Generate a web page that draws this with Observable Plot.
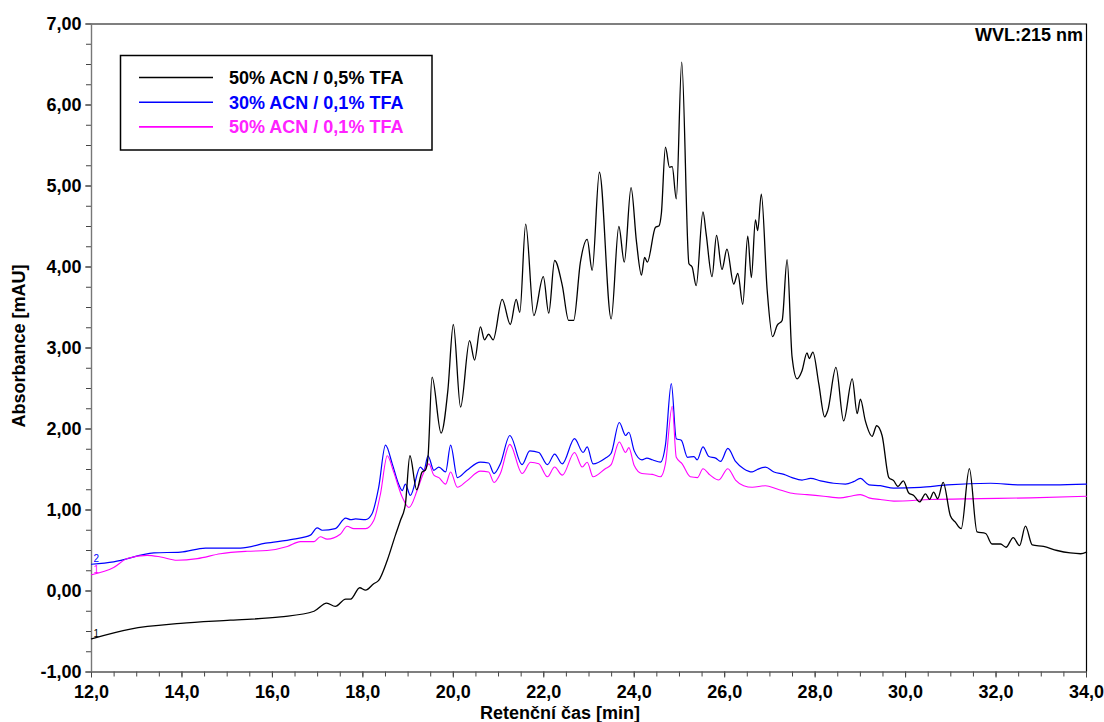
<!DOCTYPE html>
<html>
<head>
<meta charset="utf-8">
<script src="https://cdn.jsdelivr.net/npm/d3@7"></script>
<script src="https://cdn.jsdelivr.net/npm/@observablehq/plot@0.6"></script>
<style>
  html, body { margin: 0; padding: 0; background: #fff; }
  #chart { width: 1104px; height: 722px; }
</style>
</head>
<body>
<div id="chart"></div>
<script>
// ---- Data (retention time [min], absorbance [mAU]) ----
const seriesNames = ["50% ACN / 0,5% TFA", "30% ACN / 0,1% TFA", "50% ACN / 0,1% TFA"];
const seriesColors = ["#000000", "#0000ff", "#ff00ff"];
const seriesTags = ["1", "2", "1"];

const black05 = [
  [12.00,-0.59],[12.86,-0.47],[13.97,-0.40],[15.07,-0.36],[16.18,-0.32],[16.92,-0.25],[17.20,-0.15],[17.39,-0.19],
  [17.62,-0.10],[17.73,-0.10],[17.93,0.04],[18.06,0.01],[18.24,0.09],[18.35,0.13],[18.54,0.38],[18.72,0.69],
  [18.83,0.87],[18.94,1.07],[19.04,1.67],[19.19,1.25],[19.31,1.47],[19.38,1.49],[19.44,1.65],[19.53,2.64],
  [19.73,1.95],[19.88,2.48],[20.00,3.29],[20.16,2.27],[20.36,3.09],[20.47,2.85],[20.60,3.26],[20.69,3.10],
  [20.78,3.17],[20.88,3.10],[21.08,3.60],[21.26,3.29],[21.39,3.60],[21.47,3.44],[21.60,4.53],[21.78,3.40],
  [21.99,3.88],[22.11,3.43],[22.24,4.08],[22.41,3.77],[22.55,3.34],[22.66,3.34],[22.81,4.06],[22.96,4.34],
  [23.07,3.96],[23.23,5.17],[23.49,3.36],[23.66,4.50],[23.78,4.06],[23.93,4.98],[24.05,4.31],[24.16,3.90],
  [24.23,4.12],[24.29,4.06],[24.47,4.49],[24.55,4.51],[24.60,4.66],[24.69,5.48],[24.78,5.23],[24.84,5.24],
  [24.93,4.84],[25.05,6.53],[25.21,4.04],[25.28,4.00],[25.37,3.77],[25.52,4.68],[25.59,4.41],[25.72,3.88],
  [25.82,4.39],[25.94,3.97],[26.05,4.22],[26.20,3.79],[26.29,3.92],[26.40,3.54],[26.51,4.38],[26.59,3.87],
  [26.68,4.58],[26.73,4.45],[26.81,4.90],[26.94,3.71],[27.06,3.14],[27.16,3.28],[27.27,3.34],[27.38,4.09],
  [27.49,2.89],[27.60,2.62],[27.71,2.72],[27.82,2.94],[27.87,2.87],[27.95,2.95],[28.08,2.56],[28.21,2.15],
  [28.28,2.23],[28.46,2.76],[28.63,2.10],[28.82,2.62],[28.93,2.19],[29.00,2.37],[29.11,2.10],[29.26,1.91],
  [29.36,2.04],[29.48,1.92],[29.63,1.40],[29.74,1.36],[29.83,1.29],[29.95,1.36],[30.07,1.21],[30.18,1.18],
  [30.31,1.10],[30.44,1.20],[30.53,1.13],[30.62,1.22],[30.71,1.14],[30.83,1.34],[30.99,0.93],[31.10,0.85],
  [31.23,0.77],[31.41,1.51],[31.58,0.73],[31.77,0.71],[31.91,0.58],[32.10,0.58],[32.22,0.54],[32.38,0.66],
  [32.52,0.56],[32.65,0.80],[32.80,0.57],[33.05,0.55],[33.35,0.50],[33.64,0.47],[33.87,0.46],[34.00,0.48]
];

const blue30 = [
  [12.00,0.33],[12.49,0.36],[13.38,0.47],[13.97,0.48],[14.52,0.53],[15.29,0.53],[15.85,0.59],[16.47,0.64],
  [16.84,0.69],[16.99,0.78],[17.10,0.75],[17.39,0.77],[17.62,0.90],[17.73,0.88],[17.84,0.89],[18.06,0.88],
  [18.20,0.95],[18.35,1.28],[18.50,1.80],[18.65,1.57],[18.79,1.32],[18.87,1.24],[18.94,1.32],[19.05,1.18],
  [19.27,1.53],[19.35,1.49],[19.44,1.67],[19.57,1.49],[19.68,1.53],[19.83,1.47],[19.94,1.80],[20.09,1.40],
  [20.30,1.49],[20.60,1.59],[20.78,1.58],[20.90,1.45],[21.04,1.57],[21.25,1.92],[21.52,1.56],[21.69,1.73],
  [21.89,1.71],[22.08,1.56],[22.24,1.69],[22.41,1.57],[22.68,1.88],[22.87,1.71],[22.96,1.78],[23.09,1.57],
  [23.36,1.64],[23.49,1.70],[23.67,2.08],[23.81,1.92],[23.88,1.96],[24.00,1.73],[24.17,1.62],[24.28,1.64],
  [24.40,1.62],[24.58,1.59],[24.69,1.80],[24.82,2.56],[24.93,1.88],[25.04,1.86],[25.18,1.65],[25.32,1.66],
  [25.39,1.62],[25.52,1.78],[25.65,1.66],[25.80,1.64],[25.91,1.60],[26.07,1.76],[26.24,1.60],[26.42,1.51],
  [26.61,1.47],[26.72,1.50],[26.90,1.53],[27.09,1.47],[27.31,1.44],[27.49,1.40],[27.71,1.37],[27.90,1.39],
  [28.12,1.36],[28.41,1.33],[28.67,1.32],[28.85,1.35],[29.00,1.39],[29.19,1.31],[29.44,1.30],[29.74,1.27],
  [30.33,1.28],[30.92,1.31],[31.88,1.33],[32.54,1.31],[33.28,1.31],[34.00,1.32]
];

const magenta50 = [
  [12.00,0.20],[12.49,0.29],[12.79,0.40],[13.23,0.44],[13.53,0.42],[13.89,0.38],[14.34,0.40],[14.85,0.46],
  [15.44,0.49],[15.88,0.50],[16.33,0.55],[16.62,0.61],[16.92,0.61],[17.06,0.67],[17.21,0.64],[17.50,0.70],
  [17.65,0.80],[17.80,0.77],[18.06,0.77],[18.24,0.87],[18.39,1.20],[18.54,1.67],[18.68,1.47],[18.87,1.16],
  [19.02,1.03],[19.20,1.24],[19.35,1.47],[19.46,1.57],[19.57,1.43],[19.68,1.40],[19.83,1.32],[19.94,1.47],
  [20.09,1.28],[20.30,1.36],[20.60,1.48],[20.78,1.47],[20.90,1.34],[21.04,1.45],[21.25,1.81],[21.52,1.45],
  [21.71,1.59],[21.89,1.57],[22.08,1.41],[22.24,1.53],[22.41,1.43],[22.68,1.71],[22.85,1.53],[22.96,1.59],
  [23.09,1.41],[23.36,1.51],[23.49,1.56],[23.67,1.84],[23.81,1.71],[23.88,1.77],[24.00,1.55],[24.17,1.45],
  [24.40,1.44],[24.58,1.41],[24.69,1.57],[24.84,2.28],[24.93,1.65],[25.06,1.57],[25.24,1.41],[25.40,1.40],
  [25.52,1.51],[25.68,1.43],[25.87,1.37],[26.07,1.51],[26.24,1.37],[26.42,1.30],[26.61,1.28],[26.90,1.30],
  [27.16,1.26],[27.45,1.21],[27.82,1.19],[28.19,1.17],[28.56,1.15],[28.78,1.17],[29.00,1.19],[29.19,1.15],
  [29.44,1.13],[29.74,1.11],[30.55,1.13],[31.65,1.14],[32.76,1.15],[34.00,1.17]
];

const xMajorTicks = [12, 14, 16, 18, 20, 22, 24, 26, 28, 30, 32, 34];
const xMinorTicks = d3.range(12, 34.001, 0.5);
const yMajorTicks = [-1, 0, 1, 2, 3, 4, 5, 6, 7];
const yMinorTicks = d3.range(-1, 7.001, 0.25);

const xTitle = "Retenční čas [min]";
const yTitle = "Absorbance [mAU]";
const cornerNote = "WVL:215 nm";

// ---- Build ----
const allSeries = [black05, blue30, magenta50];
const rows = allSeries.flatMap((s, i) => s.map(([t, v]) => ({t, v, s: i})));
const firsts = allSeries.map((s, i) => ({t: s[0][0], v: s[0][1], s: i}));
const comma = (n, d) => n.toFixed(d).replace(".", ",");

const W = 1104, H = 722;
const font = "'Liberation Sans', Arial, Helvetica, sans-serif";
const FS = 18;

const chart = Plot.plot({
  width: W,
  height: H,
  marginLeft: 91,
  marginRight: 18,
  marginTop: 23.5,
  marginBottom: 50.5,
  style: {fontFamily: font, fontSize: FS + "px", fontWeight: "bold", background: "#fff", color: "#000"},
  x: {domain: [12, 34], label: null},
  y: {domain: [-1, 7], label: null},
  marks: [
    Plot.axisX(xMinorTicks, {tickSize: 5, tickFormat: () => "", stroke: "#444", label: null}),
    Plot.axisY(yMinorTicks, {tickSize: 5, tickFormat: () => "", stroke: "#444", label: null}),
    Plot.axisX(xMajorTicks, {tickSize: 6, tickPadding: 7, tickFormat: d => comma(d, 1), stroke: "#444", label: null}),
    Plot.axisY(yMajorTicks, {tickSize: 6, tickPadding: 4, tickFormat: d => comma(d, 2), stroke: "#444", label: null}),
    Plot.ruleY([7], {stroke: "#000", strokeWidth: 1.2}),
    Plot.ruleX([34], {stroke: "#000", strokeWidth: 1.2}),
    Plot.ruleY([-1], {stroke: "#555", strokeWidth: 1.4}),
    Plot.ruleX([12], {stroke: "#777", strokeWidth: 1.4}),
    Plot.line(rows.filter(d => d.s === 1), {x: "t", y: "v", stroke: seriesColors[1], strokeWidth: 1.2, curve: "monotone-x"}),
    Plot.line(rows.filter(d => d.s === 2), {x: "t", y: "v", stroke: seriesColors[2], strokeWidth: 1.1, curve: "monotone-x"}),
    Plot.line(rows.filter(d => d.s === 0), {x: "t", y: "v", stroke: seriesColors[0], strokeWidth: 1.3, curve: "monotone-x"}),
    Plot.text(firsts, {x: "t", y: "v", text: d => seriesTags[d.s], fill: d => seriesColors[d.s],
      dx: 2, dy: -5, textAnchor: "start", fontSize: 10, fontWeight: "normal"})
  ]
});

const svg = d3.select(chart);
const addText = (sel) => sel.attr("font-family", font).attr("font-size", FS).attr("font-weight", "bold");
// Corner note
addText(svg.append("text")).attr("x", 1083).attr("y", 41).attr("text-anchor", "end")
  .attr("fill", "#000").text(cornerNote);
// Axis titles
addText(svg.append("text")).attr("transform", "translate(24.5,346) rotate(-90)").attr("text-anchor", "middle")
  .attr("fill", "#000").text(yTitle);
addText(svg.append("text")).attr("x", 560).attr("y", 718.5).attr("text-anchor", "middle")
  .attr("fill", "#000").text(xTitle);
// Legend
const lg = svg.append("g");
lg.append("rect").attr("x", 120.5).attr("y", 55.5).attr("width", 311.5).attr("height", 94.5)
  .attr("fill", "#fff").attr("stroke", "#000").attr("stroke-width", 1.5);
seriesNames.forEach((name, i) => {
  const y = 77.5 + i * 24.7;
  lg.append("line").attr("x1", 139).attr("x2", 213).attr("y1", y).attr("y2", y)
    .attr("stroke", seriesColors[i]).attr("stroke-width", 1.6);
  addText(lg.append("text")).attr("x", 229).attr("y", y + 6.4).attr("text-anchor", "start")
    .attr("fill", i === 2 ? "#ff22ff" : seriesColors[i]).text(name);
});

document.getElementById("chart").appendChild(chart);
</script>
</body>
</html>
